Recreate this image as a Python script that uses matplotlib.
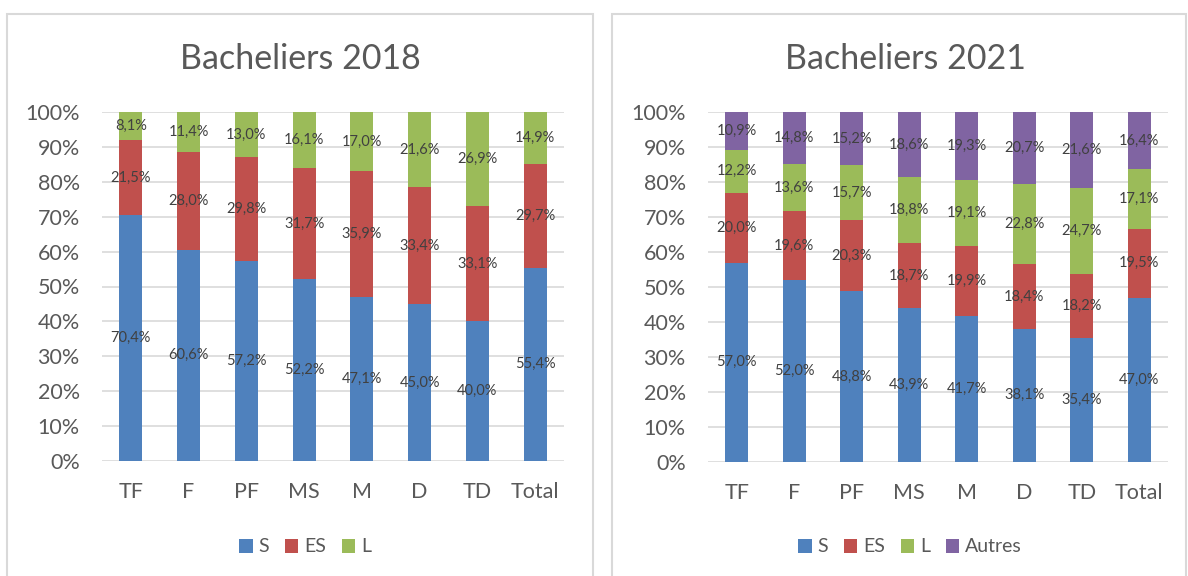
import matplotlib.pyplot as plt
from matplotlib.patches import Rectangle

categories = ['TF', 'F', 'PF', 'MS', 'M', 'D', 'TD', 'Total']

s_2018 = [70.4, 60.6, 57.2, 52.2, 47.1, 45.0, 40.0, 55.4]
es_2018 = [21.5, 28.0, 29.8, 31.7, 35.9, 33.4, 33.1, 29.7]
l_2018 = [8.1, 11.4, 13.0, 16.1, 17.0, 21.6, 26.9, 14.9]

s_2021 = [57.0, 52.0, 48.8, 43.9, 41.7, 38.1, 35.4, 47.0]
es_2021 = [20.0, 19.6, 20.3, 18.7, 19.9, 18.4, 18.2, 19.5]
l_2021 = [12.2, 13.6, 15.7, 18.8, 19.1, 22.8, 24.7, 17.1]
autres_2021 = [10.9, 14.8, 15.2, 18.6, 19.3, 20.7, 21.6, 16.4]

colors = {'S': '#4F81BD', 'ES': '#C0504D', 'L': '#9BBB59', 'Autres': '#8064A2'}

plt.rcParams['font.family'] = ['Lato', 'DejaVu Sans']

W, H = 1188, 576
fig = plt.figure(figsize=(W / 100, H / 100), dpi=100)
fig.patch.set_facecolor('white')

# panel frames
for x0, x1 in [(7, 593), (612, 1186)]:
    fig.patches.append(Rectangle((x0 / W, -0.05), (x1 - x0) / W, 1 - 14 / H + 0.05,
                                 transform=fig.transFigure, fill=False,
                                 edgecolor='#D9D9D9', lw=1.5))


def fmt(v):
    return f"{v:.1f}%".replace('.', ',')


def draw(ax_px, title, series, title_x, legend_x):
    x0, x1, ytop, ybot = ax_px
    ax = fig.add_axes([x0 / W, 1 - ybot / H, (x1 - x0) / W, (ybot - ytop) / H])
    xs = range(len(categories))
    bottom = [0] * len(categories)
    handles = []
    for name, vals in series:
        b = ax.bar(xs, vals, 0.4, bottom=bottom, color=colors[name], label=name, zorder=3)
        handles.append(b)
        for i, v in enumerate(vals):
            ax.text(i, bottom[i] + v / 2, fmt(v), ha='center', va='center',
                    fontsize=10.5, color='#404040', zorder=4)
        bottom = [bb + v for bb, v in zip(bottom, vals)]
    ax.set_xlim(-0.5, len(categories) - 0.5)
    ax.set_ylim(0, 100)
    ax.set_yticks(range(0, 101, 10))
    ax.set_yticklabels([f"{t}%" for t in range(0, 101, 10)])
    ax.set_xticks(list(xs))
    ax.set_xticklabels(categories)
    ax.tick_params(length=0, labelsize=15.5, colors='#595959')
    ax.tick_params(axis='y', pad=16)
    ax.tick_params(axis='x', pad=15)
    ax.grid(axis='y', color='#D9D9D9', lw=1.2, zorder=0)
    for sp in ax.spines.values():
        sp.set_visible(False)
    fig.text(title_x / W, 1 - 59 / H, title, ha='center', va='center',
             fontsize=24.5, color='#595959')
    fig.legend(handles=handles, loc='center', bbox_to_anchor=(legend_x / W, 1 - 547 / H),
               ncol=len(series), frameon=False, fontsize=14, labelcolor='#595959',
               handlelength=0.7, handleheight=0.7, handletextpad=0.3, columnspacing=0.8)


draw((102, 564, 112, 461), 'Bacheliers 2018',
     [('S', s_2018), ('ES', es_2018), ('L', l_2018)], 300, 305)
draw((708, 1168, 112, 462), 'Bacheliers 2021',
     [('S', s_2021), ('ES', es_2021), ('L', l_2021), ('Autres', autres_2021)], 905, 910)

fig.savefig('out.png', dpi=100)
